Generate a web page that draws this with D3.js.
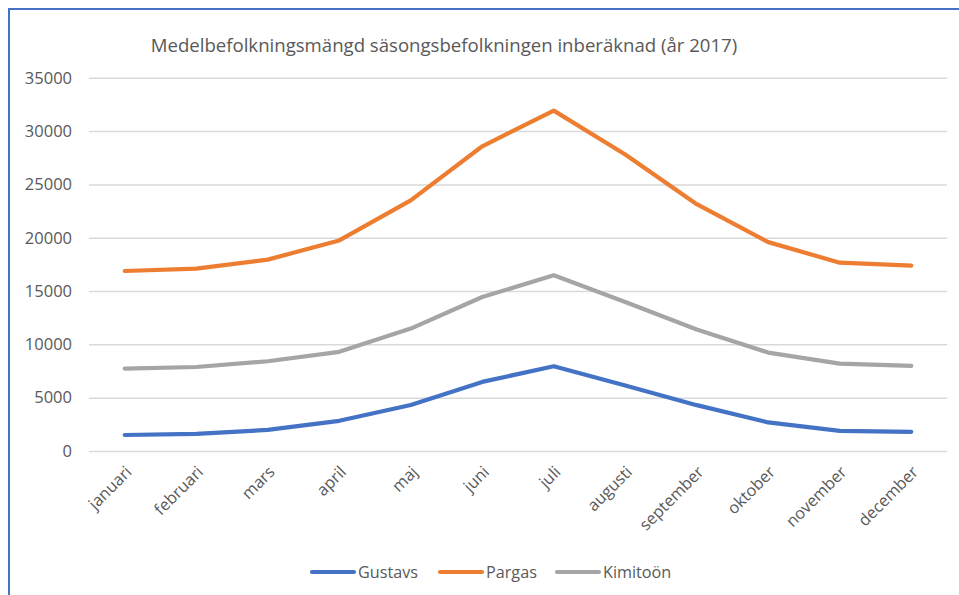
<!DOCTYPE html>
<html><head><meta charset="utf-8">
<script src="https://cdn.jsdelivr.net/npm/d3@7"></script>
<style>body{margin:0;background:#fff}svg{display:block}</style>
</head><body><svg id="c" width="959" height="595"></svg>
<script>
const months = ["januari","februari","mars","april","maj","juni","juli","augusti","september","oktober","november","december"];
const gustavs = [1500,1600,1980,2830,4320,6480,7950,6150,4300,2680,1890,1800];
const pargas = [16880,17100,17950,19750,23500,28580,31920,27800,23150,19590,17660,17380];
const kimitoon = [7730,7880,8420,9300,11480,14440,16480,13980,11400,9230,8200,7980];
const seriesNames = ["Gustavs","Pargas","Kimitoön"];
const colors = ["#4472C4","#ED7D31","#A5A5A5"];
const yTicks = [0,5000,10000,15000,20000,25000,30000,35000];
const title = "Medelbefolkningsmängd säsongsbefolkningen inberäknad (år 2017)";

const svg = d3.select("#c");
const font = "Open Sans, sans-serif";
const x = d3.scaleBand().domain(months).range([89,947]);
const y = d3.scaleLinear().domain([0,35000]).range([451,77.8]);

// border
svg.append("path").attr("d","M9,595 L9,9 L959,9").attr("fill","none").attr("stroke","#4472C4").attr("stroke-width",2);

// title
svg.append("text").attr("x",444).attr("y",52).attr("text-anchor","middle")
  .attr("font-family",font).attr("font-size",18.6).attr("fill","#595959").text(title);

// grid
const yAxis = d3.axisLeft(y).tickValues(yTicks).tickSize(-(947-89)).tickFormat(d=>String(d)).tickPadding(17);
const gy = svg.append("g").attr("transform","translate(89,0)").call(yAxis);
gy.select(".domain").remove();
gy.selectAll("line").attr("stroke","#D9D9D9").attr("stroke-width",1.5);
gy.selectAll("text").attr("font-family",font).attr("font-size",16.5).attr("fill","#595959");

// x axis labels
const xAxis = d3.axisBottom(x).tickSize(0).tickPadding(0);
const gx = svg.append("g").attr("transform","translate(0,451)").call(xAxis);
gx.select(".domain").remove();
gx.selectAll("text").attr("font-family",font).attr("font-size",16.3).attr("fill","#595959")
  .attr("text-anchor","end").attr("dy",null).attr("y",0)
  .attr("transform","translate(8,22) rotate(-45)");

// lines
const all = [gustavs,pargas,kimitoon];
const line = d3.line().x((d,i)=>x(months[i])+x.bandwidth()/2).y(d=>y(d));
[2,1,0].forEach(k=>{
  svg.append("path").datum(all[k]).attr("d",line).attr("fill","none")
    .attr("stroke",colors[k]).attr("stroke-width",4.2).attr("stroke-linecap","round").attr("stroke-linejoin","round");
});

// legend
const legX = [312,440,557];
seriesNames.forEach((n,k)=>{
  const g = svg.append("g");
  g.append("line").attr("x1",legX[k]).attr("x2",legX[k]+42).attr("y1",572).attr("y2",572)
    .attr("stroke",colors[k]).attr("stroke-width",4.2).attr("stroke-linecap","round");
  g.append("text").attr("x",legX[k]+46).attr("y",578).attr("font-family",font).attr("font-size",16.2)
    .attr("fill","#595959").text(n);
});
</script></body></html>
